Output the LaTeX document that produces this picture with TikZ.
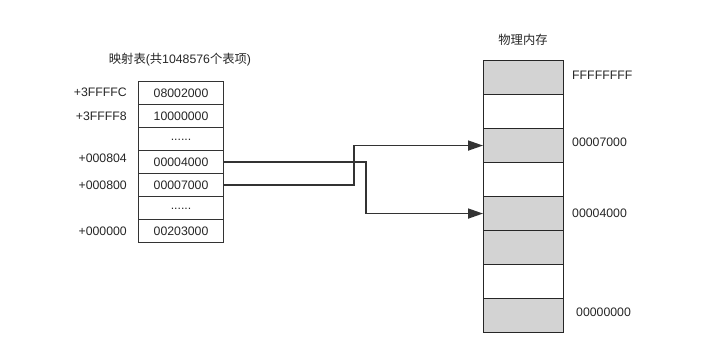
\documentclass[tikz,border=0pt]{standalone}
\usepackage{fontspec}
\setmainfont{Liberation Sans}
\newfontfamily\cjk{Noto Sans CJK SC}
\usetikzlibrary{arrows.meta}
\definecolor{memgray}{HTML}{D3D3D3}
\definecolor{linegray}{HTML}{333333}
\begin{document}
\begin{tikzpicture}[x=1pt,y=-1pt,
  every node/.style={font=\fontsize{12.3}{14}\selectfont, text=black!85},
  entry/.style={draw=black!80, line width=1.1pt, minimum width=85pt, minimum height=23pt, inner sep=0pt, anchor=north west},
  memrow/.style={draw=black!85, line width=1.1pt, minimum width=80pt, minimum height=34pt, inner sep=0pt, anchor=north west},
  grayrow/.style={memrow, fill=memgray},
  whiterow/.style={memrow, fill=white},
  addr/.style={anchor=east, inner sep=0pt},
  memlabel/.style={anchor=west, inner sep=0pt},
  conn/.style={draw=linegray, line width=1.6pt, -{Triangle[length=15pt,width=10pt]}}
]
\useasboundingbox (0,0) rectangle (704,352);

% mapping table
\node[inner sep=0pt] (ttitle) at (180,60) {{\cjk 映射表}({\cjk 共}1048576{\cjk 个表项})};
\node[entry] (L1) at (138,81) {08002000};
\node[entry] (L2) at (138,104) {10000000};
\node[entry] (L3) at (138,127) {\raisebox{-2pt}{......}};
\node[entry] (L4) at (138,150) {00004000};
\node[entry] (L5) at (138,173) {00007000};
\node[entry] (L6) at (138,196) {\raisebox{-2pt}{......}};
\node[entry] (L7) at (138,219) {00203000};

\node[addr] (a1) at (127,92) {+3FFFFC};
\node[addr] (a2) at (127,116) {+3FFFF8};
\node[addr] (a4) at (127,158) {+000804};
\node[addr] (a5) at (127,185) {+000800};
\node[addr] (a7) at (127,231) {+000000};

% physical memory
\node[inner sep=0pt] (mtitle) at (523,40) {\cjk 物理内存};
\node[grayrow]  (R1) at (483,60) {};
\node[whiterow] (R2) at (483,94) {};
\node[grayrow]  (R3) at (483,128) {};
\node[whiterow] (R4) at (483,162) {};
\node[grayrow]  (R5) at (483,196) {};
\node[grayrow]  (R6) at (483,230) {};
\node[whiterow] (R7) at (483,264) {};
\node[grayrow]  (R8) at (483,298) {};

\node[memlabel] (m1) at (572,75) {FFFFFFFF};
\node[memlabel] (m3) at (572,142) {00007000};
\node[memlabel] (m5) at (572,213) {00004000};
\node[memlabel] (m8) at (576,312) {00000000};

% connectors
\draw[conn] (L4.east) -- ++(142,0) |- (R5.west);
\draw[conn] (L5.east) -- ++(130,0) |- (R3.west);
\end{tikzpicture}
\end{document}
